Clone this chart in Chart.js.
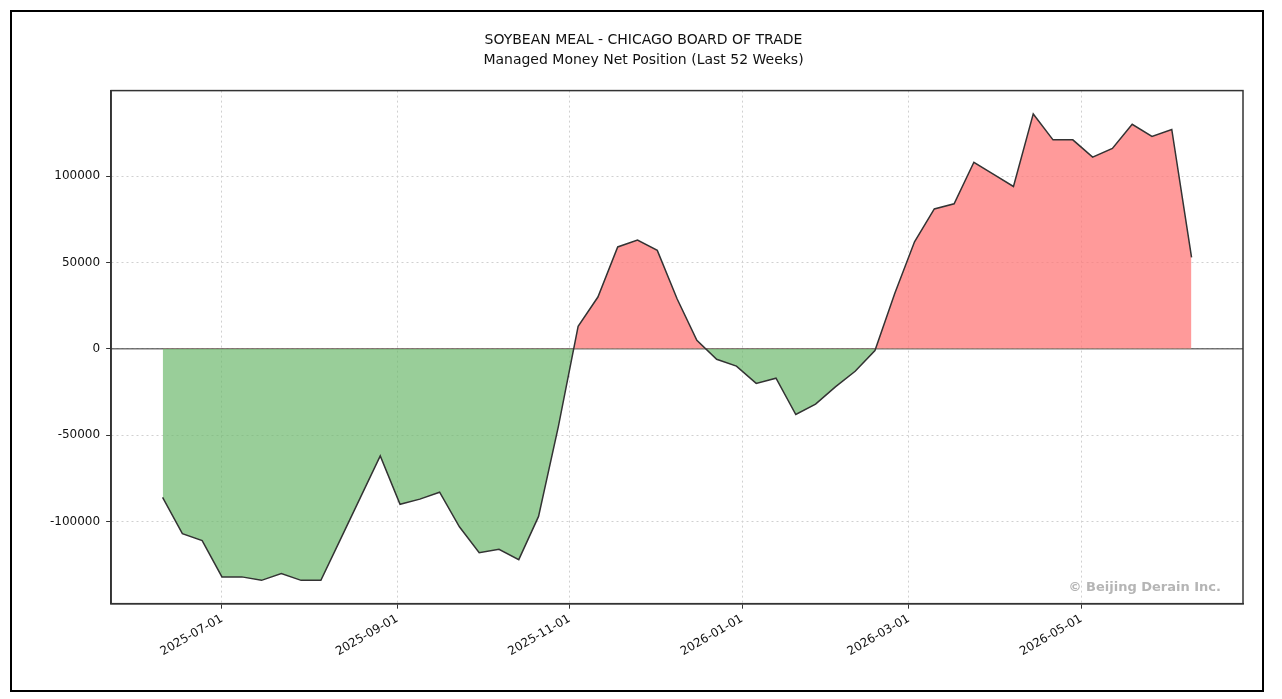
<!DOCTYPE html>
<html>
<head>
<meta charset="utf-8">
<script src="https://cdn.jsdelivr.net/npm/chart.js@4"></script>
<style>
  body { margin: 0; background: #fff; }
  #frame { position: absolute; left: 10px; top: 10px; width: 1250px; height: 678px; border: 2px solid #000; }
</style>
</head>
<body>
<div id="frame"><canvas id="cot"></canvas></div>
<script>
// weekly report dates, first one
const startDate = "2025-06-10";

// managed money net position
const netPosition = [
  -86000, -107000, -111000, -132000, -132000, -134000, -130000, -134000, -134000, -110000,
  -86000, -62000, -90000, -87000, -83000, -103000, -118000, -116000, -122000, -97000,
  -45000, 13000, 30000, 59000, 63000, 57000, 29000, 5000, -6000, -10000,
  -20000, -17000, -38000, -32000, -22000, -13000, -1000, 32000, 62000, 81000,
  84000, 108000, 101000, 94000, 136000, 121000, 121000, 111000, 116000, 130000,
  123000, 127000, 53000
];

const xTickLabels = ["2025-07-01", "2025-09-01", "2025-11-01", "2026-01-01", "2026-03-01", "2026-05-01"];
const yTickValues = [-100000, -50000, 0, 50000, 100000];

const DAY = 86400000;
const t0 = Date.parse(startDate + "T00:00:00Z");
const points = netPosition.map((v, i) => ({ x: t0 + i * 7 * DAY, y: v }));

const xMin = points[0].x, xMax = points[points.length - 1].x;
const xPad = (xMax - xMin) * 0.05;
const yMinV = Math.min(...netPosition), yMaxV = Math.max(...netPosition);
const yPad = (yMaxV - yMinV) * 0.05;

function fmtDate(ms) {
  return new Date(ms).toISOString().slice(0, 10);
}

const watermark = {
  id: "watermark",
  afterDraw(chart) {
    const { ctx, chartArea } = chart;
    ctx.save();
    ctx.font = "bold 13px 'DejaVu Sans'";
    ctx.fillStyle = "#b5b5b5";
    ctx.textAlign = "right";
    ctx.textBaseline = "bottom";
    ctx.fillText("© Beijing Derain Inc.", chartArea.right - 22, chartArea.bottom - 10);
    ctx.restore();
  }
};

const zeroLine = {
  id: "zeroLine",
  beforeDatasetsDraw(chart) {
    const { ctx, chartArea, scales } = chart;
    const y = scales.y.getPixelForValue(0);
    ctx.save();
    ctx.strokeStyle = "#333";
    ctx.lineWidth = 1;
    ctx.beginPath();
    ctx.moveTo(chartArea.left, y);
    ctx.lineTo(chartArea.right, y);
    ctx.stroke();
    ctx.restore();
  }
};

// solid frame round the plot area
const frameBox = {
  id: "frameBox",
  afterDraw(chart) {
    const { ctx, chartArea: a } = chart;
    ctx.save();
    ctx.strokeStyle = "#333";
    ctx.lineWidth = 1.5;
    ctx.strokeRect(a.left, a.top, a.right - a.left, a.bottom - a.top);
    ctx.restore();
  }
};

new Chart(document.getElementById("cot"), {
  type: "line",
  data: {
    datasets: [
      {
        data: points,
        borderColor: "#333333",
        borderWidth: 1.5,
        pointRadius: 0,
        tension: 0,
        fill: {
          target: { value: 0 },
          above: "rgba(255, 120, 120, 0.75)",
          below: "rgba(110, 185, 110, 0.7)",
        },
      },
    ],
  },
  options: {
    responsive: true,
    maintainAspectRatio: false,
    animation: false,
    layout: { padding: { left: 32, right: 19, top: 14, bottom: 28 } },
    plugins: {
      legend: { display: false },
      tooltip: { enabled: false },
      title: {
        display: true,
        text: ["SOYBEAN MEAL - CHICAGO BOARD OF TRADE", "Managed Money Net Position (Last 52 Weeks)"],
        color: "#111",
        font: { family: "DejaVu Sans", size: 14, weight: "normal", lineHeight: 1.45 },
        padding: { top: 4, bottom: 20 },
      },
    },
    scales: {
      x: {
        type: "linear",
        min: xMin - xPad,
        max: xMax + xPad,
        afterBuildTicks(axis) {
          axis.ticks = xTickLabels.map((d) => ({ value: Date.parse(d + "T00:00:00Z") }));
        },
        ticks: {
          callback: (v) => fmtDate(v),
          color: "#111",
          font: { family: "DejaVu Sans", size: 12 },
          maxRotation: 30,
          minRotation: 30,
        },
        grid: { color: "#d0d0d0", tickColor: "#333", tickLength: 5 },
        border: { color: "#333", width: 1.5, dash: [2, 3] },
      },
      y: {
        min: yMinV - yPad,
        max: yMaxV + yPad,
        afterBuildTicks(axis) {
          axis.ticks = yTickValues.map((v) => ({ value: v }));
        },
        ticks: {
          callback: (v) => String(v),
          color: "#111",
          font: { family: "DejaVu Sans", size: 12 },
          padding: 6,
        },
        grid: { color: "#d0d0d0", tickColor: "#333", tickLength: 5 },
        border: { color: "#333", width: 1.5, dash: [2, 3] },
      },
    },
  },
  plugins: [watermark, zeroLine, frameBox],
});
</script>
</body>
</html>
